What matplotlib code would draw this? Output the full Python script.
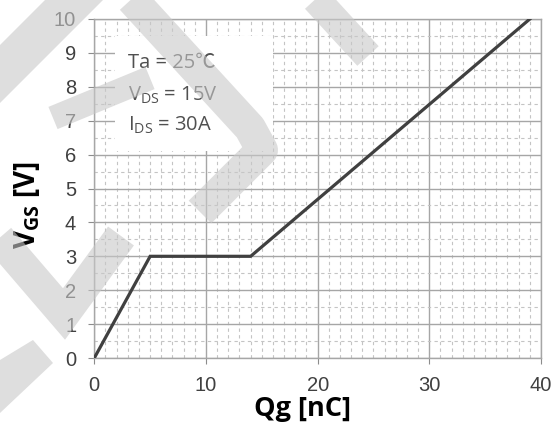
import matplotlib
matplotlib.use("Agg")
import matplotlib.pyplot as plt
from matplotlib.patches import Rectangle, Polygon
from matplotlib.lines import Line2D
from matplotlib.ticker import MultipleLocator

# Data
qg = [0, 5, 14, 39]          # nC
vgs = [0, 3, 3, 10]          # V
x_ticks = [0, 10, 20, 30, 40]
y_ticks = [0, 1, 2, 3, 4, 5, 6, 7, 8, 9, 10]
cond_lines = ["Ta = 25\u2103", r"V$_{\mathregular{DS}}$ = 15V", r"I$_{\mathregular{DS}}$ = 30A"]

W, H = 560, 426
fig = plt.figure(figsize=(W / 100, H / 100), dpi=100)
ax = fig.add_axes([94.3 / W, 1 - 358 / H, (541 - 94.3) / W, (358 - 19) / H])

ax.set_xlim(0, 40)
ax.set_ylim(0, 10)
ax.xaxis.set_minor_locator(MultipleLocator(1))
ax.yaxis.set_minor_locator(MultipleLocator(0.5))
ax.set_xticks(x_ticks)
ax.set_yticks(y_ticks)

ax.grid(which="major", color="#a6a6a6", linewidth=1.0, zorder=1)
ax.grid(which="minor", color="#c4c4c4", linewidth=0.8, linestyle=(0, (3, 3)), zorder=1)
ax.set_axisbelow(True)
for s in ax.spines.values():
    s.set_color("#a6a6a6")
    s.set_linewidth(1.0)

ax.tick_params(which="major", direction="out", length=4.5, width=0.8, color="#8c8c8c",
               labelsize=14.5, labelcolor="#404040", pad=8.5)
ax.tick_params(which="minor", length=0)
for lab in ax.get_xticklabels() + ax.get_yticklabels():
    lab.set_family("Liberation Sans")

# white condition box hiding the grid
ax.add_patch(Rectangle((1.85, 6.1), 16 - 1.85, 9.5 - 6.1, facecolor="white",
                       edgecolor="none", zorder=2))
ys = [8.7, 7.75, 6.85]
for t, yy in zip(cond_lines, ys):
    ax.text(3.0, yy, t, fontsize=14.5, color="#505050",
            family=["Open Sans", "Noto Sans CJK JP", "DejaVu Sans"],
            va="center", ha="left", zorder=3)

ax.plot(qg, vgs, color="#404040", linewidth=2.3, zorder=4, solid_joinstyle="miter")

fig.text(302 / W, 1 - 409 / H, "Qg [nC]", fontsize=19.5, fontweight="bold",
         family="Open Sans", ha="center", va="center")
fig.text(27 / W, 1 - 205 / H, r"V$_{\mathregular{GS}}$ [V]", fontsize=20, fontweight="bold",
         family="Open Sans", ha="center", va="center", rotation=90)

# light grey watermark overlay (pixel coordinates, y down)
WM_COLOR, WM_ALPHA = "#c8c8c8", 0.6
bands = [
    ([(312, -5), (368, 56)], 29, "miter"),
    ([(128, -5), (250, 128), (262, 150), (200, 212)], 32, "round"),
    ([(53, 118), (150, 78)], 24, "miter"),
    ([(-15, 222), (64, 314), (121, 236)], 32, "miter"),
]
for pts, wpx, join in bands:
    xs = [p[0] / W for p in pts]
    yv = [1 - p[1] / H for p in pts]
    fig.lines.append(Line2D(xs, yv, transform=fig.transFigure, color=WM_COLOR, alpha=WM_ALPHA,
                            linewidth=wpx * 0.72, solid_capstyle="butt",
                            solid_joinstyle=join, zorder=5))
polys = [
    [(45, 0), (103, 0), (0, 103), (0, 45)],
    [(0, 360), (33, 340), (53, 363), (0, 413)],
]
for poly in polys:
    pts = [(x / W, 1 - y / H) for x, y in poly]
    fig.patches.append(Polygon(pts, closed=True, transform=fig.transFigure,
                               facecolor=WM_COLOR, edgecolor="none", alpha=WM_ALPHA, zorder=5))

fig.savefig("out.png", dpi=100)
